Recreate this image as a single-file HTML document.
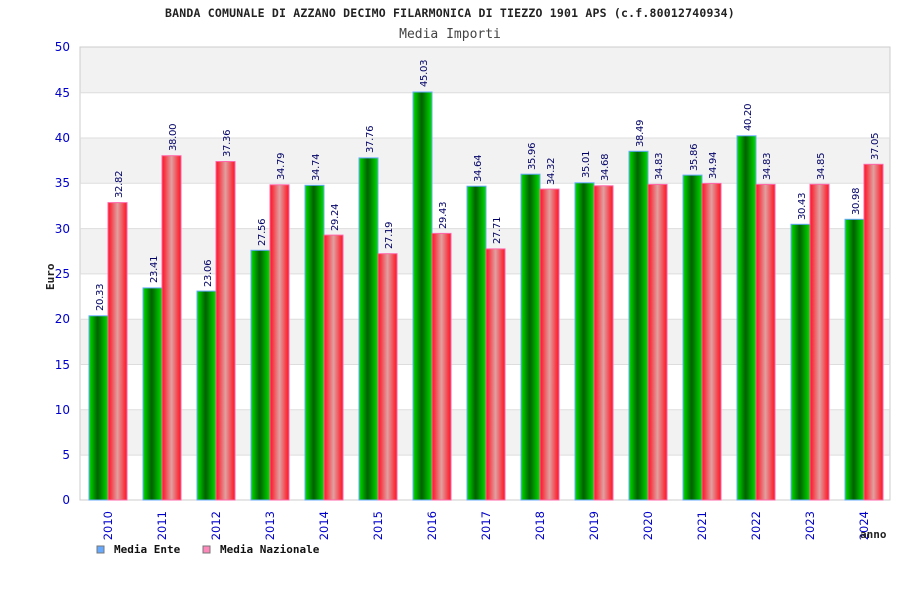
<!DOCTYPE html><html><head><style>body{margin:0;background:#fff}svg{display:block}</style></head><body>
<svg width="900" height="600" xmlns="http://www.w3.org/2000/svg" font-family="'DejaVu Sans Mono','Liberation Mono',monospace">
<defs>
<linearGradient id="g" x1="0" x2="1"><stop offset="0" stop-color="#00e000"/><stop offset="0.45" stop-color="#006000"/><stop offset="1" stop-color="#00e000"/></linearGradient>
<linearGradient id="r" x1="0" x2="1"><stop offset="0" stop-color="#ff1020"/><stop offset="0.5" stop-color="#e0a0a0"/><stop offset="1" stop-color="#ff1020"/></linearGradient>
</defs>
<rect x="80" y="47" width="810" height="453" fill="#fff" stroke="#ccc"/>
<g fill="#f2f2f2"><rect x="80.5" y="47.5" width="809" height="45.3"/><rect x="80.5" y="138.1" width="809" height="45.3"/><rect x="80.5" y="228.7" width="809" height="45.3"/><rect x="80.5" y="319.3" width="809" height="45.3"/><rect x="80.5" y="409.9" width="809" height="45.3"/></g>
<g stroke="#ddd"><line x1="80" x2="890" y1="92.7" y2="92.7"/><line x1="80" x2="890" y1="138" y2="138"/><line x1="80" x2="890" y1="183.3" y2="183.3"/><line x1="80" x2="890" y1="228.6" y2="228.6"/><line x1="80" x2="890" y1="273.9" y2="273.9"/><line x1="80" x2="890" y1="319.2" y2="319.2"/><line x1="80" x2="890" y1="364.5" y2="364.5"/><line x1="80" x2="890" y1="409.8" y2="409.8"/><line x1="80" x2="890" y1="455.1" y2="455.1"/></g>
<g font-size="12" fill="#00c" text-anchor="end" font-family="'DejaVu Sans',sans-serif">
<text x="70" y="51">50</text><text x="70" y="97">45</text><text x="70" y="142">40</text><text x="70" y="187">35</text><text x="70" y="233">30</text><text x="70" y="278">25</text><text x="70" y="323">20</text><text x="70" y="369">15</text><text x="70" y="414">10</text><text x="70" y="459">5</text><text x="70" y="504">0</text></g>
<g stroke="#6af" fill="url(#g)">
<rect x="89" y="315.8" width="19" height="184.2"/><rect x="143" y="287.9" width="19" height="212.1"/><rect x="197" y="291.1" width="19" height="208.9"/><rect x="251" y="250.3" width="19" height="249.7"/><rect x="305" y="185.3" width="19" height="314.7"/><rect x="359" y="157.9" width="19" height="342.1"/><rect x="413" y="92" width="19" height="408"/><rect x="467" y="186.2" width="19" height="313.8"/><rect x="521" y="174.2" width="19" height="325.8"/><rect x="575" y="182.8" width="19" height="317.2"/><rect x="629" y="151.3" width="19" height="348.7"/><rect x="683" y="175.1" width="19" height="324.9"/><rect x="737" y="135.8" width="19" height="364.2"/><rect x="791" y="224.3" width="19" height="275.7"/><rect x="845" y="219.3" width="19" height="280.7"/></g>
<g stroke="#f6a" fill="url(#r)">
<rect x="108" y="202.6" width="19" height="297.4"/><rect x="162" y="155.7" width="19" height="344.3"/><rect x="216" y="161.5" width="19" height="338.5"/><rect x="270" y="184.8" width="19" height="315.2"/><rect x="324" y="235.1" width="19" height="264.9"/><rect x="378" y="253.7" width="19" height="246.3"/><rect x="432" y="233.4" width="19" height="266.6"/><rect x="486" y="248.9" width="19" height="251.1"/><rect x="540" y="189.1" width="19" height="310.9"/><rect x="594" y="185.8" width="19" height="314.2"/><rect x="648" y="184.4" width="19" height="315.6"/><rect x="702" y="183.4" width="19" height="316.6"/><rect x="756" y="184.4" width="19" height="315.6"/><rect x="810" y="184.3" width="19" height="315.7"/><rect x="864" y="164.3" width="19" height="335.7"/></g>
<g font-size="10" fill="#006" font-family="'DejaVu Sans',sans-serif" letter-spacing="-0.3">
<text transform="translate(103,311) rotate(-90)">20.33</text><text transform="translate(157,283) rotate(-90)">23.41</text><text transform="translate(211,287) rotate(-90)">23.06</text><text transform="translate(265,246) rotate(-90)">27.56</text><text transform="translate(319,181) rotate(-90)">34.74</text><text transform="translate(373,153) rotate(-90)">37.76</text><text transform="translate(427,87) rotate(-90)">45.03</text><text transform="translate(481,182) rotate(-90)">34.64</text><text transform="translate(535,170) rotate(-90)">35.96</text><text transform="translate(589,178) rotate(-90)">35.01</text><text transform="translate(643,147) rotate(-90)">38.49</text><text transform="translate(697,171) rotate(-90)">35.86</text><text transform="translate(751,131) rotate(-90)">40.20</text><text transform="translate(805,220) rotate(-90)">30.43</text><text transform="translate(859,215) rotate(-90)">30.98</text>
<text transform="translate(122,198) rotate(-90)">32.82</text><text transform="translate(176,151) rotate(-90)">38.00</text><text transform="translate(230,157) rotate(-90)">37.36</text><text transform="translate(284,180) rotate(-90)">34.79</text><text transform="translate(338,231) rotate(-90)">29.24</text><text transform="translate(392,249) rotate(-90)">27.19</text><text transform="translate(446,229) rotate(-90)">29.43</text><text transform="translate(500,244) rotate(-90)">27.71</text><text transform="translate(554,185) rotate(-90)">34.32</text><text transform="translate(608,181) rotate(-90)">34.68</text><text transform="translate(662,180) rotate(-90)">34.83</text><text transform="translate(716,179) rotate(-90)">34.94</text><text transform="translate(770,180) rotate(-90)">34.83</text><text transform="translate(824,180) rotate(-90)">34.85</text><text transform="translate(878,160) rotate(-90)">37.05</text></g>
<g font-size="11.5" fill="#00c" text-anchor="end" font-family="'DejaVu Sans',sans-serif">
<text transform="translate(112,511) rotate(-90)">2010</text><text transform="translate(166,511) rotate(-90)">2011</text><text transform="translate(220,511) rotate(-90)">2012</text><text transform="translate(274,511) rotate(-90)">2013</text><text transform="translate(328,511) rotate(-90)">2014</text><text transform="translate(382,511) rotate(-90)">2015</text><text transform="translate(436,511) rotate(-90)">2016</text><text transform="translate(490,511) rotate(-90)">2017</text><text transform="translate(544,511) rotate(-90)">2018</text><text transform="translate(598,511) rotate(-90)">2019</text><text transform="translate(652,511) rotate(-90)">2020</text><text transform="translate(706,511) rotate(-90)">2021</text><text transform="translate(760,511) rotate(-90)">2022</text><text transform="translate(814,511) rotate(-90)">2023</text><text transform="translate(868,511) rotate(-90)">2024</text></g>
<text x="450" y="17" font-size="11.5" font-weight="bold" text-anchor="middle" fill="#222" letter-spacing="0.2">BANDA COMUNALE DI AZZANO DECIMO FILARMONICA DI TIEZZO 1901 APS (c.f.80012740934)</text>
<text x="450" y="38" font-size="13" text-anchor="middle" fill="#444">Media Importi</text>
<text transform="translate(54,290) rotate(-90)" font-size="11" font-weight="bold" fill="#222">Euro</text>
<text x="860" y="538" font-size="11" font-weight="bold" fill="#222">anno</text>
<rect x="97" y="546" width="7" height="7" fill="#6af" stroke="#777"/>
<text x="114" y="553" font-size="11" font-weight="bold" fill="#111">Media Ente</text>
<rect x="203" y="546" width="7" height="7" fill="#f8b" stroke="#777"/>
<text x="220" y="553" font-size="11" font-weight="bold" fill="#111">Media Nazionale</text>
</svg></body></html>
